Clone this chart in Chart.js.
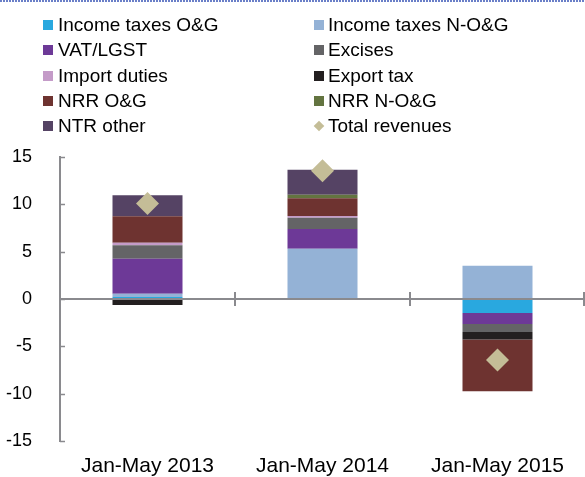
<!DOCTYPE html>
<html>
<head>
<meta charset="utf-8">
<script src="https://cdn.jsdelivr.net/npm/chart.js@4.4.1/dist/chart.umd.min.js"></script>
<style>
  html, body { margin: 0; padding: 0; background: #fff; }
  #wrap { position: relative; width: 585px; height: 477px; overflow: hidden; font-family: "Liberation Sans", Arial, sans-serif; }
  #topline { position: absolute; left: 0; top: 0; width: 585px; height: 2px;
    background: repeating-linear-gradient(90deg, #6a7fc8 0 2px, #ffffff 2px 3px); }
  #chart { position: absolute; left: 0; top: 0; }
  #legend { position: absolute; left: 0; top: 0; width: 585px; height: 140px; }
  .item { position: absolute; font-size: 19px; color: #000; line-height: 22px; white-space: nowrap; }
  .mk { position: absolute; width: 10px; height: 10px; }
</style>
</head>
<body>
<div id="wrap">
  <canvas id="chart" width="585" height="477"></canvas>
  <div id="topline"></div>
  <div id="legend"></div>
</div>
<script>
const categories = ['Jan-May 2013', 'Jan-May 2014', 'Jan-May 2015'];
const incomeTaxesOG  = [0.2, 0, -1.48];
const incomeTaxesNOG = [0.35, 5.31, 3.52];
const vatLgst        = [3.7, 2.08, -1.16];
const excises        = [1.44, 1.2, -0.84];
const importDuties   = [0.26, 0.17, 0];
const exportTax      = [-0.63, 0, -0.81];
const nrrOG          = [2.8, 1.87, -5.45];
const nrrNOG         = [0, 0.37, 0];
const ntrOther       = [2.2, 2.64, 0];
const totalRevenues  = [10.1, 13.55, -6.44];
const yTicks = [-15, -10, -5, 0, 5, 10, 15];

const barSeries = [
  ['Income taxes O&G', incomeTaxesOG, '#29a8df'],
  ['Income taxes N-O&G', incomeTaxesNOG, '#94b2d6'],
  ['VAT/LGST', vatLgst, '#6d3997'],
  ['Excises', excises, '#646466'],
  ['Import duties', importDuties, '#c49bc8'],
  ['Export tax', exportTax, '#231f20'],
  ['NRR O&G', nrrOG, '#6e3330'],
  ['NRR N-O&G', nrrNOG, '#637440'],
  ['NTR other', ntrOther, '#554364']
];

const datasets = barSeries.map(([label, data, color]) => ({
  type: 'bar', label, data, backgroundColor: color, borderWidth: 0,
  stack: 'bars', barPercentage: 0.4, categoryPercentage: 1.0
}));
datasets.push({
  type: 'line', label: 'Total revenues', data: totalRevenues, stack: 'total',
  showLine: false, pointStyle: 'rectRot', pointRadius: 11.5, pointHoverRadius: 11.5,
  backgroundColor: '#c4bd97', borderColor: '#c4bd97', borderWidth: 0, order: -1
});

const axisColor = '#8a8a8e';
const tickPlugin = {
  id: 'ticksInside',
  afterDatasetsDraw(chart) {
    const {ctx, chartArea, scales: {x, y}} = chart;
    ctx.save();
    ctx.strokeStyle = axisColor;
    ctx.lineWidth = 1.5;
    yTicks.forEach(v => {
      const py = Math.round(y.getPixelForValue(v)) + 0.5;
      ctx.beginPath(); ctx.moveTo(chartArea.left, py); ctx.lineTo(chartArea.left + 5, py); ctx.stroke();
    });
    const y0 = y.getPixelForValue(0);
    ctx.lineWidth = 2.2;
    ctx.beginPath(); ctx.moveTo(chartArea.left, y0); ctx.lineTo(chartArea.right, y0); ctx.stroke();
    ctx.lineWidth = 2;
    categories.forEach((c, i) => {
      let px = x.getPixelForValue(i + 0.5);
      if (i === categories.length - 1) px = Math.min(px, chartArea.right - 1);
      ctx.beginPath(); ctx.moveTo(px, y0 - 7); ctx.lineTo(px, y0 + 7); ctx.stroke();
    });
    ctx.restore();
  }
};

const chart = new Chart(document.getElementById('chart'), {
  data: { labels: categories, datasets },
  options: {
    responsive: false, animation: false,
    layout: { autoPadding: false, padding: { top: 157, bottom: 0, left: 0, right: 0 } },
    plugins: { legend: { display: false }, tooltip: { enabled: false } },
    scales: {
      x: {
        stacked: true, offset: true,
        afterFit(s) { s.height = 36; s.paddingLeft = 0; s.paddingRight = 0; },
        grid: { display: false }, border: { display: false },
        ticks: { color: '#000', font: { family: '"Liberation Sans", Arial, sans-serif', size: 21 }, padding: 5, maxRotation: 0, autoSkip: false }
      },
      y: {
        stacked: true, min: -15, max: 15,
        afterFit(s) { s.width = 60; s.paddingTop = 0; s.paddingBottom = 0; },
        afterBuildTicks(s) { s.ticks = yTicks.map(v => ({ value: v })); },
        grid: { display: true, drawOnChartArea: false, drawTicks: false },
        border: { display: true, color: axisColor, width: 2 },
        ticks: { color: '#000', font: { family: '"Liberation Sans", Arial, sans-serif', size: 18 }, padding: 28 }
      }
    }
  },
  plugins: [tickPlugin]
});

const legend = document.getElementById('legend');
const rowY = [25, 50, 76, 101, 126];
const colMk = [43, 314], colTx = [58, 328];
chart.data.datasets.forEach((ds, i) => {
  const row = Math.floor(i / 2), col = i % 2;
  const mk = document.createElement('div');
  mk.className = 'mk';
  mk.style.left = colMk[col] + 'px';
  mk.style.top = (rowY[row] - 5) + 'px';
  mk.style.background = ds.backgroundColor;
  if (ds.type === 'line') { mk.style.transform = 'rotate(45deg) scale(0.75)'; }
  legend.appendChild(mk);
  const tx = document.createElement('div');
  tx.className = 'item';
  tx.textContent = ds.label;
  tx.style.left = colTx[col] + 'px';
  tx.style.top = (rowY[row] - 11) + 'px';
  legend.appendChild(tx);
});
</script>
</body>
</html>
